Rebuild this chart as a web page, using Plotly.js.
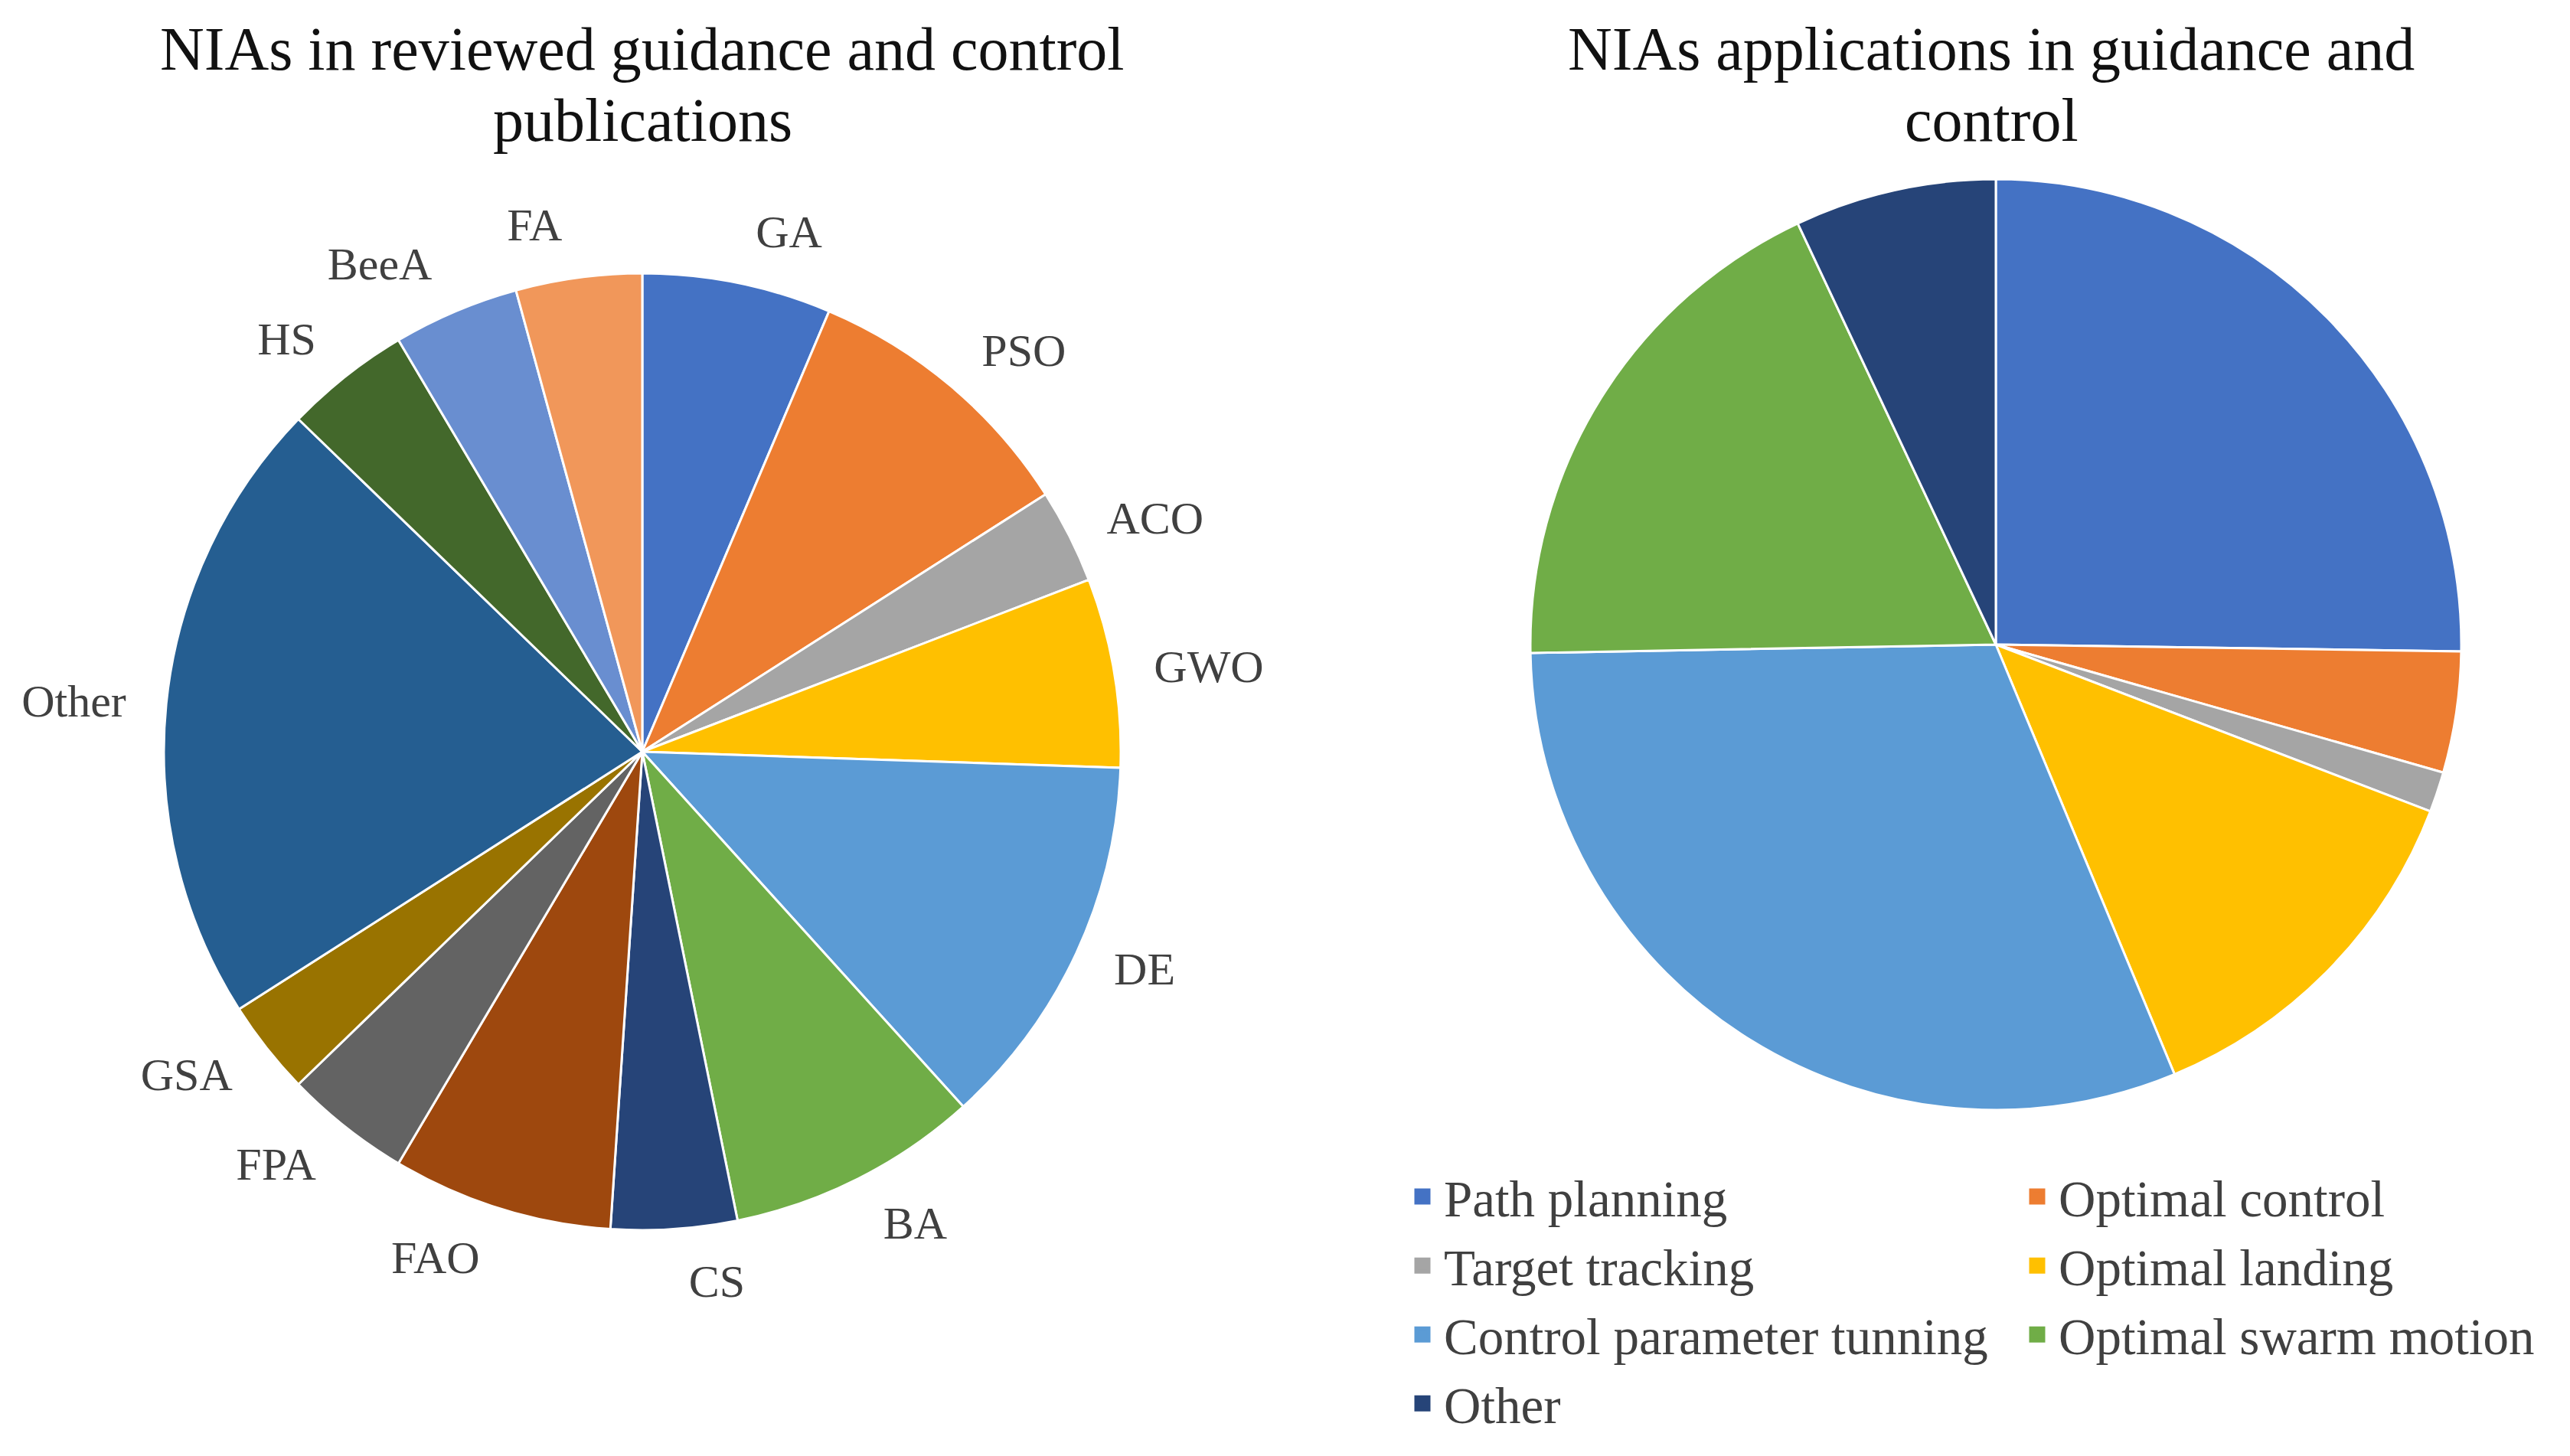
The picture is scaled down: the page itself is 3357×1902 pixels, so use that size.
<!DOCTYPE html>
<html><head><meta charset="utf-8">
<script src="https://cdn.plot.ly/plotly-3.0.1.min.js"></script>
<style>html,body{margin:0;padding:0;background:#fff}</style>
</head><body><div id="chart" style="width:3357px;height:1902px"></div>
<script>
// Left pie: NIAs in reviewed guidance and control publications (number of publications)
const algoLabels = ['GA','PSO','ACO','GWO','DE','BA','CS','FAO','FPA','GSA','Other','HS','BeeA','FA'];
const algoCounts = [6, 9, 3, 6, 12, 8, 4, 7, 4, 3, 20, 4, 4, 4];
const algoColors = ['#4472C4','#ED7D31','#A5A5A5','#FFC000','#5B9BD5','#70AD47','#264478',
                    '#9E480E','#636363','#997300','#255E91','#43682B','#698ED0','#F1975A'];

// Right pie: NIAs applications in guidance and control (share, %)
const appLabels = ['Path planning','Optimal control','Target tracking','Optimal landing',
                   'Control parameter tunning','Optimal swarm motion','Other'];
const appShares = [25.25, 4.2, 1.4, 12.9, 31.0, 18.3, 7.0];
const appColors = ['#4472C4','#ED7D31','#A5A5A5','#FFC000','#5B9BD5','#70AD47','#264478'];

// Legend layout: two columns
const legendColumn1 = ['Path planning','Target tracking','Control parameter tunning','Other'];
const legendColumn2 = ['Optimal control','Optimal landing','Optimal swarm motion'];

const titles = {
  left: ['NIAs in reviewed guidance and control','publications'],
  right: ['NIAs applications in guidance and','control']
};

const W = 3357, H = 1902;
const serif = 'Liberation Serif, Times New Roman, serif';

function domainFor(cx, cy, r) {
  return { x: [(cx - r) / W, (cx + r) / W], y: [1 - (cy + r) / H, 1 - (cy - r) / H] };
}

const leftPie = { cx: 839, cy: 982, r: 625, labelR: 661 };
const rightPie = { cx: 2607, cy: 842, r: 608 };

const traces = [
  {
    type: 'pie', labels: algoLabels, values: algoCounts, sort: false, direction: 'clockwise',
    rotation: 0, marker: { colors: algoColors, line: { color: '#ffffff', width: 3 } },
    textinfo: 'none', showlegend: false,
    domain: domainFor(leftPie.cx, leftPie.cy, leftPie.r), hoverinfo: 'none'
  },
  {
    type: 'pie', labels: appLabels, values: appShares, sort: false, direction: 'clockwise',
    rotation: 0, marker: { colors: appColors, line: { color: '#ffffff', width: 3 } },
    textinfo: 'none', showlegend: false,
    domain: domainFor(rightPie.cx, rightPie.cy, rightPie.r), hoverinfo: 'none'
  }
];

// Category labels of the left pie, set slightly away from the rim (as in the original),
// split over two transparent pies so that neighbouring labels are not pushed apart.
[0, 1].forEach(function (parity) {
  traces.push({
    type: 'pie', labels: algoLabels, values: algoCounts, sort: false, direction: 'clockwise',
    rotation: 0, marker: { colors: algoLabels.map(function () { return 'rgba(0,0,0,0)'; }),
                          line: { width: 0 } },
    textinfo: 'label',
    textposition: algoLabels.map(function (_, i) { return i % 2 === parity ? 'outside' : 'none'; }),
    outsidetextfont: { family: serif, size: 60, color: '#404040' },
    showlegend: false, hoverinfo: 'none',
    domain: domainFor(leftPie.cx, leftPie.cy, leftPie.labelR)
  });
});

function addLegendColumn(names, legendId) {
  names.forEach(function (n) {
    const i = appLabels.indexOf(n);
    traces.push({
      type: 'scatter', mode: 'markers', x: [null], y: [null], name: appLabels[i],
      marker: { symbol: 'square', size: 16, color: appColors[i],
                line: { color: appColors[i], width: 5 } },
      legend: legendId, showlegend: true, hoverinfo: 'none'
    });
  });
}
addLegendColumn(legendColumn1, 'legend');
addLegendColumn(legendColumn2, 'legend2');

const legendCommon = {
  orientation: 'v', xanchor: 'left', yanchor: 'top', bgcolor: 'rgba(0,0,0,0)',
  font: { family: serif, size: 67, color: '#404040' }, itemclick: false, itemdoubleclick: false,
  tracegroupgap: 0, itemwidth: 46
};

function titleAnn(text, cx, cy) {
  return { text: text, x: cx / W, y: 1 - cy / H, xref: 'paper', yref: 'paper',
           xanchor: 'center', yanchor: 'middle', showarrow: false,
           font: { family: serif, size: 80, color: '#111111' } };
}

const layout = {
  width: W, height: H, margin: { l: 0, r: 0, t: 0, b: 0 },
  paper_bgcolor: '#ffffff', plot_bgcolor: '#ffffff',
  xaxis: { visible: false }, yaxis: { visible: false },
  font: { family: serif, color: '#404040' },
  legend: Object.assign({}, legendCommon, { x: 1830 / W, y: 1 - 1513 / H }),
  legend2: Object.assign({}, legendCommon, { x: 2633 / W, y: 1 - 1513 / H }),
  annotations: [
    titleAnn(titles.left[0], 839, 64), titleAnn(titles.left[1], 839, 157),
    titleAnn(titles.right[0], 2601, 64), titleAnn(titles.right[1], 2601, 157)
  ]
};

Plotly.newPlot('chart', traces, layout, { staticPlot: true, displayModeBar: false });
</script>
</body></html>
